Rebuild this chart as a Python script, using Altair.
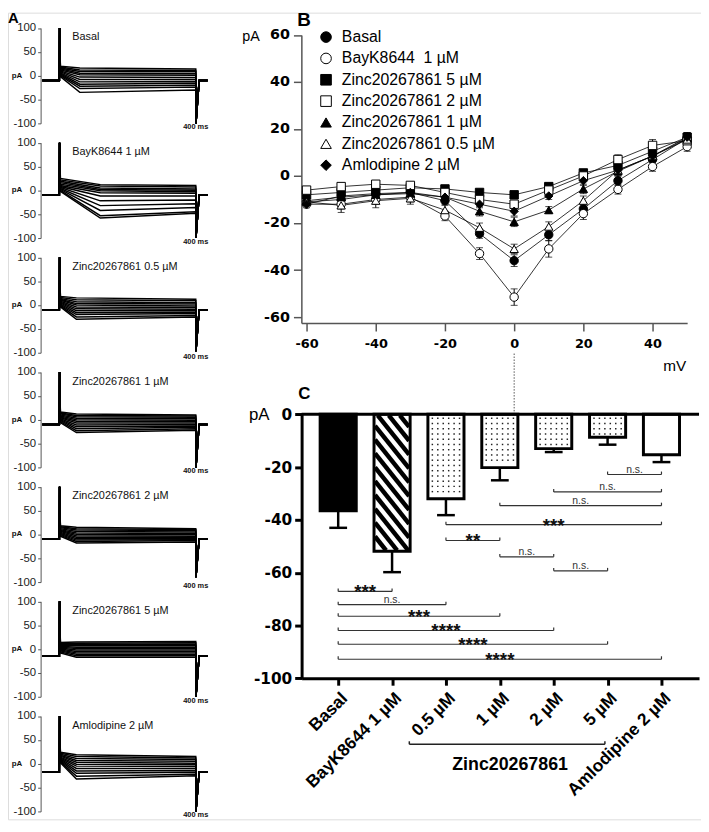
import json
import altair as alt
import pandas as pd
import numpy as np

W, H = 701, 816
M = 8  # page margin

# ---------------- Panel A : current traces ----------------
A_titles = ["Basal", "BayK8644 1 µM", "Zinc20267861 0.5 µM", "Zinc20267861 1 µM",
            "Zinc20267861 2 µM", "Zinc20267861 5 µM", "Amlodipine 2 µM"]
A_hold = [-10, -10, -10, -10, -10, -15, -18]
A_tail = [-100, -100, -97, -100, -90, -100, -100]
A_tpeak = [60, 120, 50, 50, 50, 50, 50]
A_init = [
    [20, 18, 16, 14, 12, 10, 8, 6, 4, 2, 0, -2],
    [25, 22, 19, 16, 13, 10, 8, 6, 4, 2, 0, -2],
    [18, 16, 14, 12, 10, 8, 6, 4, 2, 0, -2, -4],
    [16, 14, 12, 10, 8, 6, 4, 2, 0, -2, -4, -6],
    [18, 16, 14, 12, 10, 8, 6, 4, 2, 0, -2, -4],
    [14, 12, 10, 8, 6, 4, 2, 0, -2, -4, -6, -8],
    [24, 22, 20, 18, 16, 14, 12, 10, 8, 6, 4, 2],
]
A_peak = [
    [16, 12, 9, 5, 2, -3, -8, -13, -18, -22, -27, -35],
    [12, 9, 5, 2, -1, -5, -12, -22, -32, -42, -53, -58],
    [15, 11, 7, 3, 0, -4, -8, -12, -16, -20, -25, -30],
    [12, 9, 6, 3, 0, -3, -7, -11, -15, -19, -23, -27],
    [15, 12, 9, 6, 3, 0, -3, -6, -9, -12, -15, -18],
    [15, 12, 10, 7, 4, 1, -2, -5, -8, -11, -14, -17],
    [19, 15, 11, 7, 3, -1, -5, -10, -15, -20, -26, -32],
]
A_end = [
    [14, 11, 8, 4, 1, -4, -8, -12, -16, -20, -24, -30],
    [10, 7, 3, 0, -3, -6, -12, -20, -28, -36, -45, -48],
    [12, 9, 5, 2, -2, -5, -9, -12, -15, -18, -22, -25],
    [10, 8, 5, 2, -1, -4, -7, -10, -13, -16, -19, -22],
    [12, 10, 8, 5, 2, -1, -4, -6, -9, -11, -13, -16],
    [16, 13, 10, 7, 4, 1, -2, -5, -8, -11, -14, -17],
    [15, 12, 9, 5, 1, -2, -6, -10, -14, -18, -22, -25],
]

# ---------------- Panel B : I-V curves ----------------
B_v = [-60, -50, -40, -30, -20, -10, 0, 10, 20, 30, 40, 50]
B_names = ["Basal", "BayK8644\u00a0 1 µM", "Zinc20267861 5 µM", "Zinc20267861 2 µM",
           "Zinc20267861 1 µM", "Zinc20267861 0.5 µM", "Amlodipine 2 µM"]
B_shapes = ["circle", "circle", "square", "square", "triangle-up", "triangle-up", "diamond"]
B_fills = ["black", "white", "black", "white", "black", "white", "black"]
B_mean = [
    [-11, -10, -8, -7, -10.5, -24.5, -36, -25, -14, -2, 7, 16],
    [-12, -12, -10, -9, -17, -33, -51.5, -31, -16, -5.7, 4, 12.5],
    [-8, -7, -6, -5, -5.5, -7, -8, -4.5, 1.3, 4.5, 10.5, 16.5],
    [-6, -4.5, -3.5, -4, -7, -10, -12, -6, 0, 7, 13, 15],
    [-10.5, -9, -8, -7.5, -9, -15, -19.5, -14.5, -5.5, 2, 8.5, 16],
    [-11, -12.5, -10.5, -9.5, -14.5, -22, -31, -21.5, -10.5, 2.5, 8.5, 15.5],
    [-12, -8.5, -7.5, -7, -9, -12, -15, -8.5, -2, 2.5, 8.5, 16.5],
]
B_sem = [
    [1.5, 2, 1.5, 1.5, 1.5, 2, 2.5, 2.5, 2, 2, 2.5, 2],
    [1.5, 2, 2, 2, 2, 2.5, 3.5, 3.5, 2.5, 2, 2, 2],
    [1, 1.5, 1, 1, 1, 1, 1, 1.5, 1.5, 1.5, 2, 2],
    [1, 1, 1, 1, 1.5, 1.5, 1.5, 1.5, 2, 2, 2.5, 2.5],
    [1, 1.5, 1.5, 1.5, 1.5, 2, 2, 1.5, 2, 2, 2, 2],
    [1.5, 3, 3, 2.5, 2, 2, 2, 2, 2, 2, 2, 2.5],
    [1, 1.5, 1.5, 1.5, 1.5, 1.5, 2, 1.5, 2, 2, 2, 2],
]

# ---------------- Panel C : bar chart ----------------
C_labels = ["Basal", "BayK8644 1 µM", "0.5 µM", "1 µM", "2 µM", "5 µM", "Amlodipine 2 µM"]
C_mean = [-36.5, -51.9, -32.0, -20.2, -13.0, -8.7, -15.3]
C_err = [6.5, 7.9, 6.2, 4.8, 1.3, 2.8, 2.8]
C_fill = ["black", "white", "white", "white", "white", "white", "white"]
C_pattern = ["none", "hatch", "dots", "dots", "dots", "dots", "none"]
BR_a = [5, 4, 3, 2, 2, 3, 4, 0, 0, 0, 0, 0, 0]
BR_b = [6, 6, 6, 6, 3, 4, 5, 1, 2, 3, 4, 5, 6]
BR_y = [-22.8, -29.4, -34.6, -41.8, -47.8, -54.0, -59.3, -67.1, -72.1, -76.5, -81.9, -87.1, -92.8]
BR_txt = ["n.s.", "n.s.", "n.s.", "***", "**", "n.s.", "n.s.", "***", "n.s.", "***", "****", "****", "****"]
GROUP_label = "Zinc20267861"

layers = []
SANS = "Liberation Sans"
DJV = "DejaVu Sans"
HYPHEN = "datum.value < 0 ? '-' + (-datum.value) : '' + datum.value"

# ---------- build panel A ----------
A_xd = [-50, 435]
A_xr = [42.7 - M, 210 - M]
A_top0, A_pitch, A_h = 23.5, 116.0, 96.5
for p in range(7):
    top = A_top0 + A_pitch * p - M
    xs = alt.Scale(domain=A_xd, range=A_xr)
    ys = alt.Scale(domain=[-100, 100], range=[top + A_h, top])
    rows = []
    for s in range(12):
        pts = [(-50, A_hold[p]), (0, A_hold[p]), (0.6, 100), (3, A_init[p][s]),
               (A_tpeak[p], A_peak[p][s]), (400, A_end[p][s]), (400.6, A_tail[p]),
               (410, A_hold[p]), (435, A_hold[p])]
        for k, (t, v) in enumerate(pts):
            rows.append({"sweep": s, "k": k, "t": t, "i": v})
    dfa = pd.DataFrame(rows)
    axA = alt.Axis(orient="left", offset=-(41 - M), values=[100, 50, 0, -50, -100], title=None,
                   labelExpr=HYPHEN,
                   grid=False, labelFont=SANS, labelFontSize=11.5, labelColor="#222",
                   labelPadding=2, tickSize=3, tickColor="#555", domainColor="#555",
                   domainWidth=1, tickWidth=1)
    layers.append(alt.Chart(dfa).mark_line(color="black", strokeWidth=1.5).encode(
        x=alt.X("t:Q", scale=xs, axis=None),
        y=alt.Y("i:Q", scale=ys, axis=axA),
        detail="sweep:N", order="k:Q"))
    lab = pd.DataFrame({"t": [38, 400], "i": [80, -108], "txt": [A_titles[p], "400 ms"]})
    layers.append(alt.Chart(lab.iloc[[0]]).mark_text(align="left", baseline="middle", font=SANS,
                                                     fontSize=11, color="#111").encode(
        x=alt.X("t:Q", scale=xs, axis=None), y=alt.Y("i:Q", scale=ys, axis=None), text="txt:N"))
    layers.append(alt.Chart(lab.iloc[[1]]).mark_text(align="center", baseline="middle", font=SANS,
                                                     fontSize=7.5, fontWeight="bold", color="#111").encode(
        x=alt.X("t:Q", scale=xs, axis=None), y=alt.Y("i:Q", scale=ys, axis=None), text="txt:N"))
    layers.append(alt.Chart(pd.DataFrame({"i": [0], "txt": ["pA"]})).mark_text(
        align="center", baseline="middle", font=SANS, fontSize=8, fontWeight="bold", color="#111").encode(
        x=alt.value(17 - M), y=alt.Y("i:Q", scale=ys, axis=None), text="txt:N"))

# ---------- build panel B ----------
B_xs = alt.Scale(domain=[-61.5, 50], range=[304.75 - M, 695 - M])
B_ys = alt.Scale(domain=[-62.5, 60], range=[321.9 - M, 30.5 - M])
rowsB = []
for n, name in enumerate(B_names):
    for j, v in enumerate(B_v):
        m, e = B_mean[n][j], B_sem[n][j]
        rowsB.append({"series": name, "v": v, "i": m, "lo": m - e, "hi": m + e})
dfb = pd.DataFrame(rowsB)
axBx = alt.Axis(orient="bottom", offset=(321.9 - M) - H, values=[-60, -40, -20, 0, 20, 40], title=None,
                labelExpr=HYPHEN,
                grid=False, labelFont=DJV, labelFontWeight="bold", labelFontSize=13, labelColor="black",
                labelPadding=7, tickSize=8, tickWidth=1.5, tickColor="#555", domainColor="#555",
                domainWidth=1.5)
axBy = alt.Axis(orient="left", offset=-(304.75 - M), values=[60, 40, 20, 0, -20, -40, -60], title=None,
                labelExpr=HYPHEN,
                grid=False, labelFont=DJV, labelFontWeight="bold", labelFontSize=14.5, labelColor="black",
                labelPadding=4, tickSize=8, tickWidth=1.5, tickColor="#555", domainColor="#555",
                domainWidth=1.5)
layers.append(alt.Chart(dfb).mark_line(color="black", strokeWidth=0.8).encode(
    x=alt.X("v:Q", scale=B_xs, axis=axBx), y=alt.Y("i:Q", scale=B_ys, axis=axBy), detail="series:N"))
layers.append(alt.Chart(dfb).mark_rule(color="black", strokeWidth=1).encode(
    x=alt.X("v:Q", scale=B_xs, axis=None), y=alt.Y("lo:Q", scale=B_ys, axis=None), y2="hi:Q"))
for fld in ["lo", "hi"]:
    layers.append(alt.Chart(dfb).mark_tick(orient="horizontal", size=7, thickness=1, color="black").encode(
        x=alt.X("v:Q", scale=B_xs, axis=None), y=alt.Y(f"{fld}:Q", scale=B_ys, axis=None)))
legB = alt.Legend(orient="none", legendX=313.7, legendY=16.7, title=None, labelFont=SANS,
                  labelFontSize=16, labelColor="black", symbolSize=115,
                  symbolStrokeWidth=1, rowPadding=5.6, labelOffset=8, padding=0, labelLimit=400)
layers.append(alt.Chart(dfb).mark_point(filled=True, size=72, strokeWidth=1, opacity=1).encode(
    x=alt.X("v:Q", scale=B_xs, axis=None), y=alt.Y("i:Q", scale=B_ys, axis=None),
    shape=alt.Shape("series:N", scale=alt.Scale(domain=B_names, range=B_shapes), legend=legB),
    fill=alt.Fill("series:N", scale=alt.Scale(domain=B_names, range=B_fills), legend=legB),
    stroke=alt.Stroke("series:N", scale=alt.Scale(domain=B_names, range=["black"] * 7), legend=legB)))
layers.append(alt.Chart(pd.DataFrame({"v": [0], "a": [-75.5], "b": [-101.5]})).mark_rule(
    color="#555", strokeWidth=1, strokeDash=[1.5, 1.5]).encode(
    x=alt.X("v:Q", scale=B_xs, axis=None), y=alt.Y("a:Q", scale=B_ys, axis=None), y2="b:Q"))

# ---------- build panel C ----------
C_xd = [-0.679, 6.697]
C_xr = [305 - M, 707 - M]
C_yd = [-100, 0]
C_yr = [681.3 - M, 414.3 - M]
C_xs = alt.Scale(domain=C_xd, range=C_xr)
C_ys = alt.Scale(domain=C_yd, range=C_yr)
pxx = (C_xr[1] - C_xr[0]) / (C_xd[1] - C_xd[0])
pxy = (C_yr[0] - C_yr[1]) / (C_yd[1] - C_yd[0])
HALF = 0.335

dfc = pd.DataFrame({"idx": list(range(7)), "mean": C_mean, "err": C_err, "fill": C_fill})
dfc["x0"] = dfc["idx"] - HALF
dfc["x1"] = dfc["idx"] + HALF
dfc["zero"] = 0.0
dfc["low"] = dfc["mean"] - dfc["err"]
dfc["c0"] = dfc["idx"] - 0.165
dfc["c1"] = dfc["idx"] + 0.165

axCx = alt.Axis(orient="bottom", offset=C_yr[0] - H, values=list(range(7)), title=None, grid=False,
                labelExpr=json.dumps(C_labels) + "[datum.value]", labelAngle=-45,
                labelOverlap=False, labelBound=False, labelFlush=False,
                labelFont=SANS, labelFontWeight="bold", labelFontSize=17.5, labelColor="black",
                labelPadding=4, tickSize=7, tickWidth=3, tickColor="black", domainColor="black",
                domainWidth=3)
axCy = alt.Axis(orient="left", offset=-(305 - M), values=[0, -20, -40, -60, -80, -100], title=None,
                labelExpr=HYPHEN,
                grid=False, labelFont=DJV, labelFontWeight="bold", labelFontSize=15.5, labelColor="black",
                labelPadding=3, tickSize=7, tickWidth=3, tickColor="black", domainColor="black",
                domainWidth=3)

# bar fills
layers.append(alt.Chart(dfc).mark_rect(strokeWidth=0).encode(
    x=alt.X("x0:Q", scale=C_xs, axis=axCx), x2="x1:Q",
    y=alt.Y("zero:Q", scale=C_ys, axis=axCy), y2="mean:Q",
    fill=alt.Fill("fill:N", scale=None, legend=None)))

# hatch stripes
hrows = []
sl, per = 1.25, 14.0
for b in range(7):
    if C_pattern[b] != "hatch":
        continue
    w = 2 * HALF * pxx
    h = -C_mean[b] * pxy
    c = -sl * w
    while c < h:
        X0 = max(1.0, (1.0 - c) / sl)
        X1 = min(w - 1.0, (h - 1.0 - c) / sl)
        if X1 > X0:
            hrows.append({"x0": b - HALF + X0 / pxx, "x1": b - HALF + X1 / pxx,
                          "y0": -(sl * X0 + c) / pxy, "y1": -(sl * X1 + c) / pxy})
        c += per
layers.append(alt.Chart(pd.DataFrame(hrows)).mark_rule(color="black", strokeWidth=4.5, strokeCap="butt").encode(
    x=alt.X("x0:Q", scale=C_xs, axis=None), x2="x1:Q",
    y=alt.Y("y0:Q", scale=C_ys, axis=None), y2="y1:Q"))

# dot stipple
drows = []
for b in range(7):
    if C_pattern[b] != "dots":
        continue
    h = -C_mean[b] * pxy
    for dx in np.arange(-13.75, 14.0, 5.5):
        for dy in np.arange(4.0, h - 2.5, 5.3):
            drows.append({"x": b + dx / pxx, "y": -dy / pxy})
layers.append(alt.Chart(pd.DataFrame(drows)).mark_square(size=2.2, color="#222", opacity=1).encode(
    x=alt.X("x:Q", scale=C_xs, axis=None), y=alt.Y("y:Q", scale=C_ys, axis=None)))

# zero line
layers.append(alt.Chart(pd.DataFrame({"a": [C_xd[0]], "b": [C_xd[1]], "y": [0.0]})).mark_rule(
    color="black", strokeWidth=3).encode(
    x=alt.X("a:Q", scale=C_xs, axis=None), x2="b:Q", y=alt.Y("y:Q", scale=C_ys, axis=None)))

# bar borders
layers.append(alt.Chart(dfc).mark_rect(fillOpacity=0, stroke="black", strokeWidth=3).encode(
    x=alt.X("x0:Q", scale=C_xs, axis=None), x2="x1:Q",
    y=alt.Y("zero:Q", scale=C_ys, axis=None), y2="mean:Q"))

# error bars (downward only)
layers.append(alt.Chart(dfc).mark_rule(color="black", strokeWidth=2.5).encode(
    x=alt.X("idx:Q", scale=C_xs, axis=None), y=alt.Y("mean:Q", scale=C_ys, axis=None), y2="low:Q"))
layers.append(alt.Chart(dfc).mark_rule(color="black", strokeWidth=2.5).encode(
    x=alt.X("c0:Q", scale=C_xs, axis=None), x2="c1:Q", y=alt.Y("low:Q", scale=C_ys, axis=None)))

# significance brackets
dbr = pd.DataFrame({"a": BR_a, "b": BR_b, "y": BR_y, "txt": BR_txt})
dbr["mid"] = (dbr["a"] + dbr["b"]) / 2
dbr["yt"] = dbr["y"] + 3.0 / pxy
layers.append(alt.Chart(dbr).mark_rule(color="#333", strokeWidth=1.2).encode(
    x=alt.X("a:Q", scale=C_xs, axis=None), x2="b:Q", y=alt.Y("y:Q", scale=C_ys, axis=None)))
for end in ["a", "b"]:
    layers.append(alt.Chart(dbr).mark_rule(color="#333", strokeWidth=1.2).encode(
        x=alt.X(f"{end}:Q", scale=C_xs, axis=None), y=alt.Y("y:Q", scale=C_ys, axis=None), y2="yt:Q"))
layers.append(alt.Chart(dbr[dbr["txt"] == "n.s."]).mark_text(
    align="center", baseline="alphabetic", dy=-2, font=SANS, fontSize=10.5, color="#333").encode(
    x=alt.X("mid:Q", scale=C_xs, axis=None), y=alt.Y("y:Q", scale=C_ys, axis=None), text="txt:N"))
layers.append(alt.Chart(dbr[dbr["txt"] != "n.s."]).mark_text(
    align="center", baseline="alphabetic", dy=7, font=SANS, fontSize=19, fontWeight="bold", color="#111").encode(
    x=alt.X("mid:Q", scale=C_xs, axis=None), y=alt.Y("y:Q", scale=C_ys, axis=None), text="txt:N"))

# group bracket under x labels
dgr = pd.DataFrame({"a": [1.32], "b": [4.95], "y": [-125.0], "yt": [-125.0 + 3.0 / pxy],
                    "mid": [3.19], "ty": [-133.0], "txt": [GROUP_label]})
layers.append(alt.Chart(dgr).mark_rule(color="#222", strokeWidth=1.5).encode(
    x=alt.X("a:Q", scale=C_xs, axis=None), x2="b:Q", y=alt.Y("y:Q", scale=C_ys, axis=None)))
for end in ["a", "b"]:
    layers.append(alt.Chart(dgr).mark_rule(color="#222", strokeWidth=1.5).encode(
        x=alt.X(f"{end}:Q", scale=C_xs, axis=None), y=alt.Y("y:Q", scale=C_ys, axis=None), y2="yt:Q"))
layers.append(alt.Chart(dgr).mark_text(align="center", baseline="middle", font=SANS, fontSize=18,
                                       fontWeight="bold", color="black").encode(
    x=alt.X("mid:Q", scale=C_xs, axis=None), y=alt.Y("ty:Q", scale=C_ys, axis=None), text="txt:N"))

# ---------- free labels ----------
def label(txt, x, y, size, weight="normal", font=SANS, baseline="alphabetic", align="left"):
    return alt.Chart(pd.DataFrame({"txt": [txt]})).mark_text(
        align=align, baseline=baseline, font=font, fontSize=size, fontWeight=weight, color="black").encode(
        x=alt.value(x), y=alt.value(y), text="txt:N")

layers.append(label("A", 0, 10.5, 15, "bold"))
layers.append(label("B", 300.7 - M, 14, 19, "bold"))
layers.append(label("C", 301.7 - M, 398.3 - M, 17, "bold"))
layers.append(label("pA", 245 - M, 32.7 - M, 14.5, baseline="middle"))
layers.append(label("mV", 670.7 - M, 365.7 - M, 15.5, baseline="middle"))
layers.append(label("pA", 251.7 - M, 415 - M, 17, baseline="middle"))

chart = alt.layer(*layers).resolve_scale(
    x="independent", y="independent", fill="independent", shape="independent", stroke="independent"
).properties(
    width=W, height=H, padding=0, autosize=alt.AutoSizeParams(type="none")
).configure_view(strokeWidth=0).configure(background="white")

chart.save("out.html", embed_options={"renderer": "svg", "actions": False})
